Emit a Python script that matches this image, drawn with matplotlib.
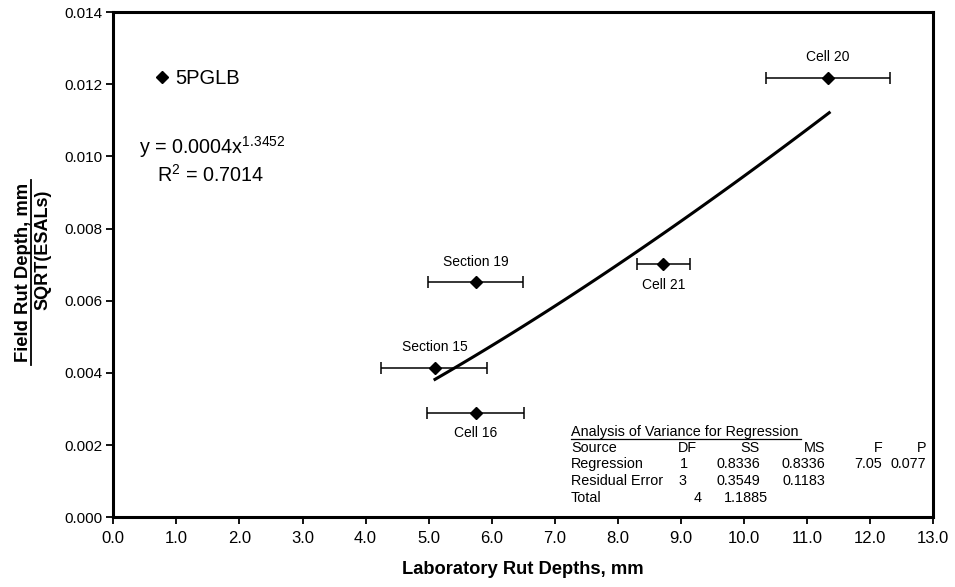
import numpy as np
import matplotlib.pyplot as plt
from matplotlib.lines import Line2D

plt.rcParams['font.family'] = ['Liberation Sans', 'DejaVu Sans']
plt.rcParams['mathtext.default'] = 'regular'

# lab rut depth (mm) with spread, field rut depth / sqrt(ESALs)
names = ['Cell 20', 'Cell 21', 'Section 19', 'Section 15', 'Cell 16']
lab_rut = [11.33, 8.72, 5.75, 5.10, 5.75]
lab_lo = [10.34, 8.31, 4.99, 4.25, 4.98]
lab_hi = [12.32, 9.14, 6.50, 5.93, 6.51]
field_rut = [0.01217, 0.00701, 0.00651, 0.00415, 0.00290]
label_side = ['above', 'below', 'above', 'above', 'below']

# power-law trend y = a * x^b
coef = 0.000427
expo = 1.3452
r2 = 0.7014

# ANOVA table
anova_head = ['Source', 'DF', 'SS', 'MS', 'F', 'P']
anova_rows = [
    ['Regression', '1', '0.8336', '0.8336', '7.05', '0.077'],
    ['Residual Error', '3', '0.3549', '0.1183', '', ''],
    ['Total', '4', '1.1885', '', '', ''],
]

W, H = 955, 587
fig = plt.figure(figsize=(W / 100, H / 100), dpi=100)
ax = fig.add_axes([113.3 / W, 1 - 517.3 / H, 820 / W, 505.3 / H])

def px(x, y):
    return x / W, 1 - y / H

x = np.array(lab_rut)
y = np.array(field_rut)
xerr = [x - np.array(lab_lo), np.array(lab_hi) - x]
ax.errorbar(x, y, xerr=xerr, fmt='D', color='black', ms=5.8, ecolor='black',
            elinewidth=1.1, capsize=4.5, capthick=1.1, zorder=3)

xs = np.linspace(min(lab_rut), max(lab_rut) + 0.02, 100)
ax.plot(xs, coef * xs ** expo, color='black', lw=2.2, zorder=2)

for n, xi, yi, side in zip(names, lab_rut, field_rut, label_side):
    off = 15 if side == 'above' else -15
    ax.annotate(n, (xi, yi), xytext=(0, off), textcoords='offset points',
                ha='center', va='center', fontsize=10)

fig.text(*px(212, 147), f'y = {coef:.4f}x$^{{{expo}}}$', ha='center',
         va='center', fontsize=14.2)
fig.text(*px(211, 175), f'R$^2$ = {r2}', ha='center', va='center',
         fontsize=14.2)

h = Line2D([], [], marker='D', color='black', ls='none', ms=5.8)
ax.legend([h], ['5PGLB'], loc='center left', bbox_to_anchor=(0.05, 0.869),
          frameon=False, fontsize=14.5, handlelength=0.8, handletextpad=0.25,
          borderpad=0, borderaxespad=0)

ax.set_xlim(0, 13)
ax.set_ylim(0, 0.014)
ax.set_xticks(np.arange(0, 13.5, 1))
ax.set_xticklabels([f'{v:.1f}' for v in np.arange(0, 13.5, 1)])
ax.set_yticks(np.arange(0, 0.0141, 0.002))
ax.set_yticklabels([f'{v:.3f}' for v in np.arange(0, 0.0141, 0.002)])
ax.tick_params(axis='x', labelsize=12, length=5, width=1.3, pad=5)
ax.tick_params(axis='y', labelsize=11, length=5, width=1.3, pad=3)
for s in ax.spines.values():
    s.set_linewidth(2.2)

ax.set_xlabel('Laboratory Rut Depths, mm', fontsize=13.2, fontweight='bold',
              labelpad=11)

# stacked y label: numerator underlined over denominator
fig.text(*px(28, 272), 'Field Rut Depth, mm', rotation=90,
         rotation_mode='anchor', ha='center', va='baseline',
         fontsize=13.3, fontweight='bold')
fig.text(*px(47.5, 250), 'SQRT(ESALs)', rotation=90, rotation_mode='anchor',
         ha='center', va='baseline', fontsize=13, fontweight='bold')
fig.add_artist(Line2D([30.8 / W, 30.8 / W], [1 - 180 / H, 1 - 365 / H],
                      color='black', lw=1.3))

# ANOVA table
fs = 10.4
fig.text(*px(571, 432), 'Analysis of Variance for Regression', fontsize=fs,
         va='center', ha='left')
fig.add_artist(Line2D([571 / W, 801 / W], [1 - 438.5 / H, 1 - 438.5 / H],
                      color='black', lw=0.9))
head_x = [571, 697, 760, 825, 883, 926]
fig.text(*px(head_x[0], 447.5), anova_head[0], fontsize=fs, va='center')
for hx, t in zip(head_x[1:], anova_head[1:]):
    fig.text(*px(hx, 447.5), t, fontsize=fs, va='center', ha='right')
row_y = [464, 481, 497.5]
df_x = [684, 682, 698]
ss_x = [760, 760, 768]
for r, ry, dx, sx in zip(anova_rows, row_y, df_x, ss_x):
    fig.text(*px(571, ry), r[0], fontsize=fs, va='center')
    fig.text(*px(dx, ry), r[1], fontsize=fs, va='center', ha='center')
    fig.text(*px(sx, ry), r[2], fontsize=fs, va='center', ha='right')
    fig.text(*px(825, ry), r[3], fontsize=fs, va='center', ha='right')
    fig.text(*px(882, ry), r[4], fontsize=fs, va='center', ha='right')
    fig.text(*px(926, ry), r[5], fontsize=fs, va='center', ha='right')

fig.savefig('out.png', dpi=100)
